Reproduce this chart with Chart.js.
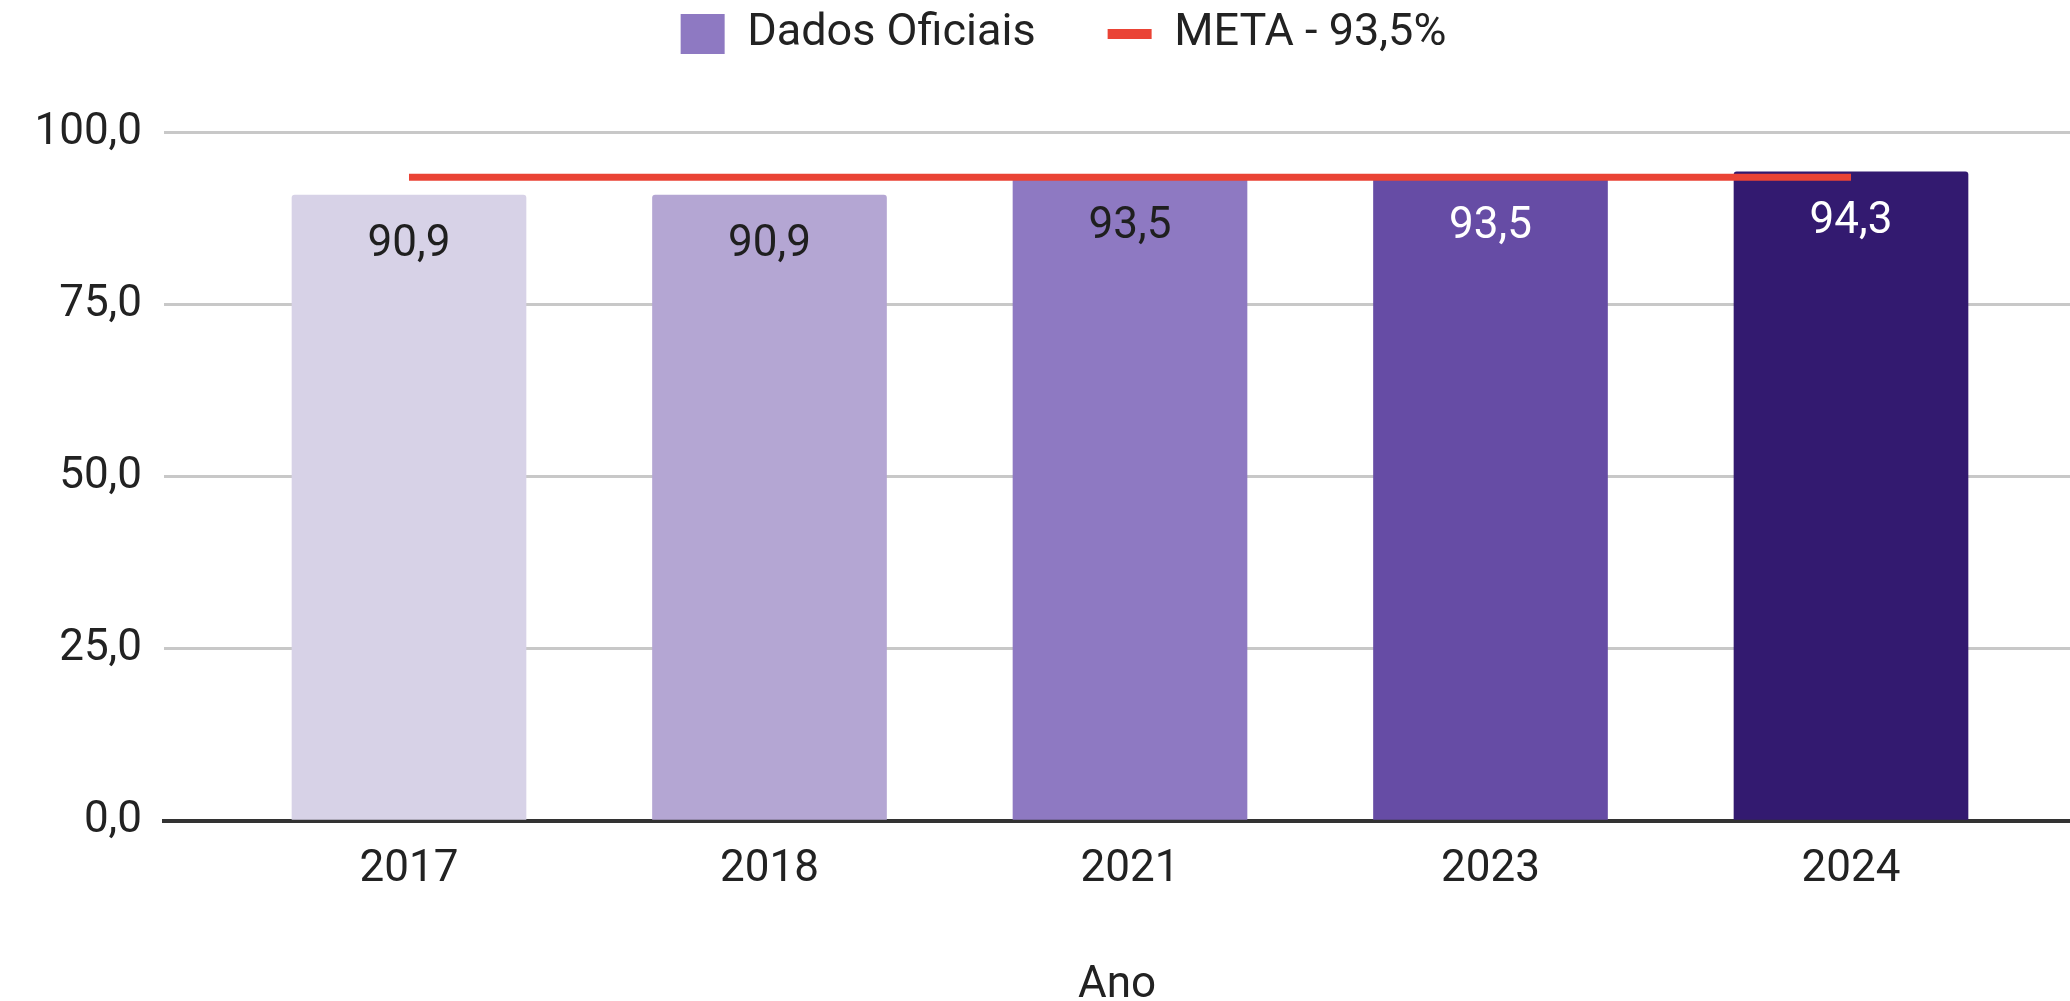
<!DOCTYPE html>
<html>
<head>
<meta charset="utf-8">
<script src="https://cdn.jsdelivr.net/npm/chart.js@4.4.1/dist/chart.umd.min.js"></script>
<style>
html,body{margin:0;padding:0;background:#ffffff;overflow:hidden}
#wrap{width:2070px;height:1001px;position:relative}
</style>
</head>
<body>
<div id="wrap"><canvas id="c" width="2070" height="1001"></canvas></div>
<script>
// ---- data ----
const years = ['2017', '2018', '2021', '2023', '2024'];
const officialValues = [90.9, 90.9, 93.5, 93.5, 94.3];
const metaValues = [93.5, 93.5, 93.5, 93.5, 93.5];
const seriesNames = ['Dados Oficiais', 'META - 93,5%'];
const yTickValues = [0, 25, 50, 75, 100];
const xAxisTitle = 'Ano';

// ---- styles ----
const barColors = ['#d7d2e7', '#b4a6d3', '#8e79c2', '#664ca5', '#331a70'];
const labelColors = ['#1f1f1f', '#1f1f1f', '#1f1f1f', '#ffffff', '#ffffff'];
const legendBarColor = '#8e79c2';
const metaColor = '#ea4335';
const FONT = 'Roboto, "Liberation Sans", Arial, sans-serif';
const TEXT = '#222222';

const fmt = v => Number(v).toFixed(1).replace('.', ',');

const barLabels = {
  id: 'barLabels',
  afterDatasetsDraw(chart) {
    const meta = chart.getDatasetMeta(0);
    const ctx = chart.ctx;
    ctx.save();
    ctx.font = '44px ' + FONT;
    ctx.textAlign = 'center';
    ctx.textBaseline = 'alphabetic';
    meta.data.forEach((el, i) => {
      ctx.fillStyle = labelColors[i];
      ctx.fillText(fmt(officialValues[i]), el.x, el.y + 61);
    });
    ctx.restore();
  }
};

const LEFT_PAD = 30;
const RIGHT_PAD = -27;
const LEG_PAD = 72;

new Chart(document.getElementById('c'), {
  data: {
    datasets: [
      {
        type: 'bar',
        label: seriesNames[0],
        data: officialValues.map((v, i) => ({x: i, y: v})),
        backgroundColor: barColors,
        borderWidth: 0,
        borderRadius: {topLeft: 3, topRight: 3, bottomLeft: 0, bottomRight: 0},
        borderSkipped: 'bottom',
        barThickness: 234,
        order: 1
      },
      {
        type: 'line',
        label: seriesNames[1],
        data: metaValues.map((v, i) => ({x: i, y: v})),
        borderColor: metaColor,
        backgroundColor: metaColor,
        borderWidth: 7,
        pointRadius: 0,
        pointHoverRadius: 0,
        fill: false,
        tension: 0,
        order: 0
      }
    ]
  },
  options: {
    responsive: false,
    devicePixelRatio: 1,
    animation: false,
    layout: {padding: {top: 34 - LEG_PAD - 22.5, left: LEFT_PAD, right: RIGHT_PAD, bottom: 0}},
    plugins: {
      tooltip: {enabled: false},
      title: {
        display: true,
        text: '',
        weight: 500,
        position: 'top',
        font: {size: 10, lineHeight: 1},
        padding: {top: 56, bottom: 0}
      },
      legend: {
        display: true,
        position: 'top',
        align: 'center',
        labels: {
          usePointStyle: true,
          pointStyleWidth: 44,
          boxHeight: 40,
          padding: LEG_PAD,
          color: TEXT,
          font: {family: FONT, size: 45},
          generateLabels: () => [
            {text: seriesNames[0], fillStyle: legendBarColor, strokeStyle: legendBarColor, lineWidth: 0, pointStyle: 'rect', hidden: false, datasetIndex: 0, fontColor: TEXT},
            {text: seriesNames[1], fillStyle: metaColor, strokeStyle: metaColor, lineWidth: 10, pointStyle: 'line', hidden: false, datasetIndex: 1, fontColor: TEXT}
          ]
        }
      }
    },
    scales: {
      x: {
        type: 'linear',
        offset: false,
        min: -0.6796,
        max: 4.6075,
        grid: {display: false, drawTicks: false, offset: false},
        border: {display: true, color: '#333333', width: 4},
        afterBuildTicks: s => { s.ticks = years.map((_, i) => ({value: i})); },
        afterFit: s => { s.height = 180; },
        ticks: {
          autoSkip: false,
          maxRotation: 0,
          padding: 23,
          color: TEXT,
          font: {family: FONT, size: 44},
          callback: v => years[v]
        },
        title: {
          display: true,
          text: xAxisTitle,
          color: TEXT,
          font: {family: FONT, size: 44, lineHeight: 0.68},
          padding: {top: 0, bottom: 0}
        }
      },
      y: {
        type: 'linear',
        min: 0,
        max: 100,
        grid: {color: '#c8c8c8', lineWidth: 3, drawTicks: false},
        border: {display: false},
        afterBuildTicks: s => { s.ticks = yTickValues.map(v => ({value: v})); },
        afterFit: s => { s.width = 164 - LEFT_PAD; },
        ticks: {
          padding: 22,
          color: TEXT,
          font: {family: FONT, size: 44},
          callback: v => fmt(v)
        }
      }
    }
  },
  plugins: [barLabels]
});
</script>
</body>
</html>
